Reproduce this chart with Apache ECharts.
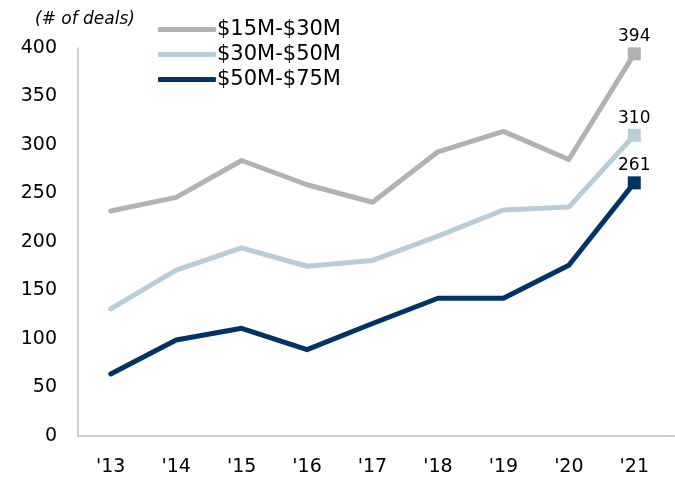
<!DOCTYPE html>
<html>
<head>
<meta charset="utf-8">
<script src="https://cdn.jsdelivr.net/npm/echarts@6/dist/echarts.min.js"></script>
<style>
  html, body { margin: 0; padding: 0; background: #fff; }
  #chart { width: 675px; height: 481px; }
</style>
</head>
<body>
<div id="chart"></div>
<script>
// Deal counts by size bracket, 2013-2021
const years = ["'13", "'14", "'15", "'16", "'17", "'18", "'19", "'20", "'21"];
const deals15to30 = [232, 246, 284, 259, 241, 293, 314, 285, 394];
const deals30to50 = [131, 171, 194, 175, 181, 206, 233, 236, 310];
const deals50to75 = [64, 99, 111, 89, 116, 142, 142, 176, 261];
const seriesNames = ['$15M-$30M', '$30M-$50M', '$50M-$75M'];
const seriesColors = ['#B2B2B2', '#B9CDD9', '#003366'];

const FONT = 'DejaVu Sans';

// Only the final year gets a square marker and a value label
function withEndMarker(values) {
  return values.map((v, i) => i === values.length - 1
    ? { value: v, symbol: 'rect', symbolSize: 13, label: { show: true } }
    : { value: v, symbol: 'none' });
}

const chart = echarts.init(document.getElementById('chart'), null, { renderer: 'canvas' });

const seriesData = [deals15to30, deals30to50, deals50to75];

chart.setOption({
  animation: false,
  backgroundColor: '#ffffff',
  title: {
    text: '(# of deals)',
    left: 30, top: 6,
    textStyle: { fontFamily: FONT, fontSize: 17, fontStyle: 'italic', fontWeight: 'normal', color: '#000' }
  },
  legend: {
    orient: 'vertical',
    left: 153, top: 12,
    itemWidth: 58, itemHeight: 5,
    itemGap: 0,
    icon: 'roundRect',
    textStyle: { fontFamily: FONT, fontSize: 21, lineHeight: 25, color: '#000', padding: [0, 0, 0, -4] },
    data: seriesNames
  },
  grid: { left: 78, right: 8, top: 48, bottom: 45, containLabel: false },
  xAxis: {
    type: 'category',
    data: years,
    boundaryGap: true,
    axisLine: { lineStyle: { color: '#BFBFBF', width: 1.5 } },
    axisTick: { show: false },
    axisLabel: { fontFamily: FONT, fontSize: 19, color: '#000', margin: 22 }
  },
  yAxis: {
    type: 'value',
    min: 0, max: 400, interval: 50,
    axisLine: { show: true, lineStyle: { color: '#BFBFBF', width: 1.5 } },
    axisTick: { show: false },
    splitLine: { show: false },
    axisLabel: { fontFamily: FONT, fontSize: 19, color: '#000', margin: 21 }
  },
  // Baseline runs on to the right edge of the canvas
  graphic: [{
    type: 'line',
    shape: { x1: 667, y1: 436, x2: 675, y2: 436 },
    style: { stroke: '#BFBFBF', lineWidth: 1.5 }
  }],
  series: seriesData.map((vals, k) => ({
    name: seriesNames[k],
    type: 'line',
    data: withEndMarker(vals),
    symbol: 'none',
    showSymbol: true,
    showAllSymbol: true,
    color: seriesColors[k],
    lineStyle: { width: 5, color: seriesColors[k], cap: 'round', join: 'round' },
    itemStyle: { color: seriesColors[k] },
    label: {
      show: false,
      position: 'top',
      distance: 2,
      fontFamily: FONT, fontSize: 17, color: '#000'
    },
    emphasis: { disabled: true },
    z: 10 - k
  }))
});
</script>
</body>
</html>
